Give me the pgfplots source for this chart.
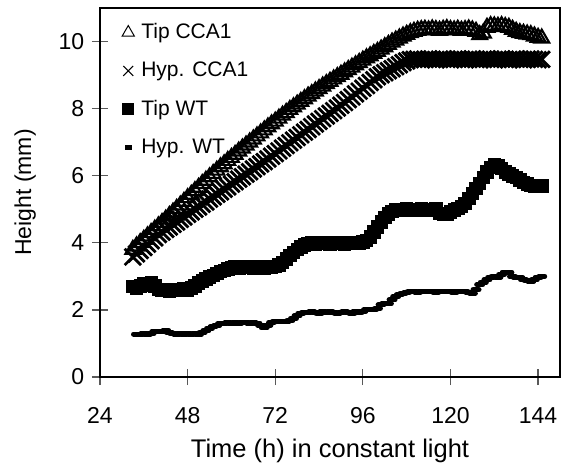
\documentclass[border=0pt]{standalone}
\usepackage{fontspec}
\setmainfont{Liberation Sans}
\usepackage{pgfplots}
\pgfplotsset{compat=1.18}
\newcommand{\fs}{\fontsize{23}{28}\selectfont}
\newcommand{\fl}{\fontsize{21}{25}\selectfont}
\newcommand{\fx}{\fontsize{25.5}{30}\selectfont}
\begin{document}
\fs
\begin{tikzpicture}
\path[use as bounding box] (-100pt,-95pt) rectangle (466pt,377pt);
\begin{axis}[
 scale only axis, width=460pt, height=369pt,
 xmin=24, xmax=150, ymin=0, ymax=11,
 xtick={24,48,72,96,120,144}, ytick={0,2,4,6,8,10},
 tick align=center, major tick length=16pt,
 xtick pos=bottom, ytick pos=left,
 axis line style={line width=1.8pt},
 tick style={line width=1.2pt, black!65},
 /pgf/number format/assume math mode=true,
 ticklabel style={font=\fs},
 xticklabel style={yshift=-15pt},
 xlabel style={font=\fx, yshift=1pt},
 ylabel style={font=\fs, yshift=7pt},
 xlabel={Time (h) in constant light},
 ylabel={Height (mm)},
 legend style={draw=none, fill=none, at={(rel axis cs:0,1)}, anchor=north west,
   xshift=22pt, yshift=-13pt, inner sep=0pt, row sep=16pt, font=\fl,
   /tikz/every odd column/.append style={column sep=5pt}},
 legend cell align=left,
 legend image code/.code={\draw[#1] plot coordinates {(0pt,0pt)};},
]
\addplot[only marks, mark=triangle, mark size=8.5pt, mark options={draw=black, line width=2.2pt},
  legend image post style={mark size=7pt, mark options={line width=1pt}}] table {
33 3.80
34 3.90
35 4.00
36 4.10
37 4.20
38 4.30
39 4.40
40 4.50
41 4.60
42 4.70
43 4.81
44 4.91
45 5.02
46 5.12
47 5.23
48 5.34
49 5.44
50 5.55
51 5.65
52 5.76
53 5.86
54 5.96
55 6.06
56 6.16
57 6.26
58 6.35
59 6.45
60 6.54
61 6.63
62 6.73
63 6.82
64 6.91
65 7.00
66 7.09
67 7.18
68 7.27
69 7.36
70 7.45
71 7.54
72 7.62
73 7.71
74 7.80
75 7.88
76 7.97
77 8.05
78 8.13
79 8.21
80 8.29
81 8.37
82 8.44
83 8.52
84 8.59
85 8.67
86 8.74
87 8.81
88 8.88
89 8.95
90 9.02
91 9.09
92 9.16
93 9.23
94 9.30
95 9.37
96 9.44
97 9.51
98 9.57
99 9.64
100 9.70
101 9.77
102 9.84
103 9.91
104 9.98
105 10.04
106 10.10
107 10.16
108 10.21
109 10.26
110 10.30
111 10.33
112 10.35
113 10.36
114 10.34
115 10.37
116 10.35
117 10.33
118 10.36
119 10.38
120 10.35
121 10.34
122 10.36
123 10.33
124 10.35
125 10.37
126 10.34
127 10.30
128 10.20
129 10.25
130 10.42
131 10.47
132 10.46
133 10.45
134 10.47
135 10.44
136 10.42
137 10.36
138 10.30
139 10.26
140 10.24
141 10.22
142 10.20
143 10.16
144 10.12
145 10.10
};
\addlegendentry{Tip CCA1}
\addplot[only marks, mark=x, mark size=11.5pt, mark options={draw=black, line width=2.8pt},
  legend image post style={mark size=7pt, mark options={line width=1.1pt}}] table {
33 3.58
34 3.67
35 3.77
36 3.86
37 3.96
38 4.06
39 4.15
40 4.25
41 4.32
42 4.40
43 4.47
44 4.55
45 4.62
46 4.70
47 4.77
48 4.85
49 4.92
50 5.00
51 5.07
52 5.15
53 5.22
54 5.30
55 5.37
56 5.45
57 5.52
58 5.60
59 5.67
60 5.75
61 5.82
62 5.90
63 5.97
64 6.05
65 6.12
66 6.20
67 6.27
68 6.35
69 6.42
70 6.50
71 6.58
72 6.66
73 6.74
74 6.82
75 6.90
76 6.98
77 7.06
78 7.14
79 7.22
80 7.30
81 7.38
82 7.46
83 7.54
84 7.62
85 7.70
86 7.78
87 7.86
88 7.94
89 8.02
90 8.10
91 8.18
92 8.27
93 8.35
94 8.44
95 8.52
96 8.61
97 8.69
98 8.78
99 8.86
100 8.95
101 9.01
102 9.07
103 9.13
104 9.19
105 9.25
106 9.31
107 9.37
108 9.42
109 9.46
110 9.47
111 9.48
112 9.46
113 9.47
114 9.48
115 9.47
116 9.46
117 9.47
118 9.48
119 9.47
120 9.46
121 9.47
122 9.48
123 9.47
124 9.46
125 9.47
126 9.48
127 9.47
128 9.46
129 9.47
130 9.48
131 9.47
132 9.46
133 9.47
134 9.48
135 9.47
136 9.46
137 9.47
138 9.48
139 9.47
140 9.46
141 9.47
142 9.48
143 9.47
144 9.46
145 9.47
};
\addlegendentry{Hyp. CCA1}
\addplot[only marks, mark=square*, mark size=6.2pt, mark options={fill=black, draw=black, line width=0.8pt},
  legend image post style={mark size=5.5pt}] table {
33 2.70
34 2.66
35 2.72
36 2.78
37 2.75
38 2.80
39 2.72
40 2.62
41 2.58
42 2.60
43 2.56
44 2.62
45 2.58
46 2.60
47 2.63
48 2.60
49 2.66
50 2.72
51 2.80
52 2.86
53 2.92
54 2.98
55 3.03
56 3.08
57 3.14
58 3.18
59 3.22
60 3.25
61 3.28
62 3.24
63 3.30
64 3.26
65 3.28
66 3.25
67 3.30
68 3.27
69 3.24
70 3.29
71 3.26
72 3.30
73 3.34
74 3.42
75 3.52
76 3.62
77 3.72
78 3.80
79 3.88
80 3.94
81 3.98
82 4.00
83 3.96
84 4.02
85 3.98
86 4.00
87 3.96
88 4.01
89 3.98
90 4.02
91 3.97
92 4.00
93 3.98
94 4.02
95 3.99
96 4.03
97 4.08
98 4.18
99 4.32
100 4.48
101 4.62
102 4.75
103 4.86
104 4.94
105 4.98
106 5.00
107 4.96
108 5.02
109 4.98
110 5.00
111 4.97
112 5.02
113 4.98
114 5.00
115 4.97
116 5.01
117 4.88
118 4.84
119 4.86
120 4.92
121 4.98
122 5.02
123 5.08
124 5.18
125 5.32
126 5.48
127 5.62
128 5.78
129 5.95
130 6.12
131 6.25
132 6.32
133 6.30
134 6.22
135 6.12
136 6.05
137 6.00
138 5.95
139 5.88
140 5.80
141 5.76
142 5.72
143 5.70
144 5.72
145 5.70
};
\addlegendentry{Tip WT}
\addplot[only marks, mark=-, mark size=3pt, mark options={draw=black, line width=5pt, line cap=round},
  legend image post style={mark size=3.5pt, mark options={line width=4.5pt, line cap=butt}}] table {
34 1.28
35 1.28
36 1.30
37 1.27
38 1.30
39 1.35
40 1.37
41 1.36
42 1.38
43 1.33
44 1.29
45 1.28
46 1.30
47 1.27
48 1.29
49 1.28
50 1.30
51 1.28
52 1.33
53 1.38
54 1.45
55 1.50
56 1.55
57 1.58
58 1.60
59 1.62
60 1.60
61 1.62
62 1.60
63 1.63
64 1.61
65 1.60
66 1.62
67 1.60
68 1.55
69 1.47
70 1.55
71 1.63
72 1.65
73 1.64
74 1.66
75 1.65
76 1.68
77 1.75
78 1.82
79 1.90
80 1.93
81 1.92
82 1.95
83 1.92
84 1.90
85 1.94
86 1.92
87 1.95
88 1.92
89 1.90
90 1.93
91 1.95
92 1.92
93 1.90
94 1.94
95 1.93
96 1.96
97 2.00
98 2.00
99 2.02
100 2.05
101 2.15
102 2.20
103 2.18
104 2.30
105 2.40
106 2.45
107 2.50
108 2.52
109 2.54
110 2.55
111 2.53
112 2.55
113 2.56
114 2.54
115 2.55
116 2.53
117 2.55
118 2.56
119 2.54
120 2.55
121 2.53
122 2.55
123 2.56
124 2.54
125 2.52
126 2.50
127 2.60
128 2.75
129 2.83
130 2.90
131 2.97
132 3.00
133 2.98
134 3.05
135 3.13
136 3.12
137 3.00
138 2.97
139 2.96
140 2.90
141 2.88
142 2.85
143 2.90
144 2.97
145 3.00
};
\addlegendentry{Hyp. WT}
\end{axis}
\end{tikzpicture}
\end{document}
